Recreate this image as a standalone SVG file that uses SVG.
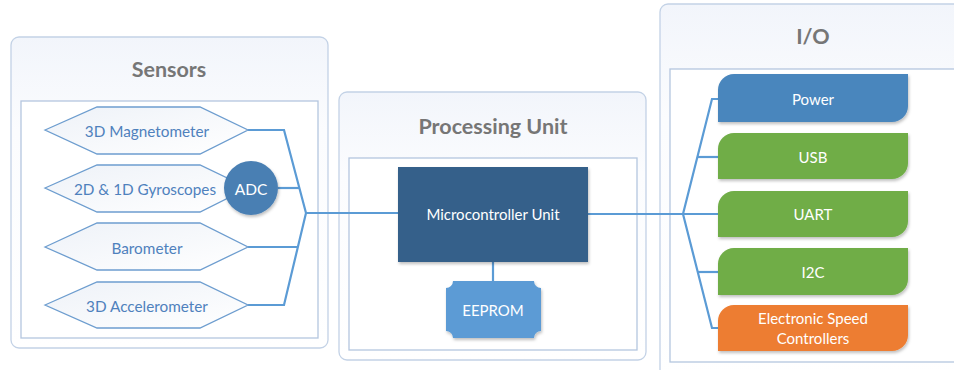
<svg xmlns="http://www.w3.org/2000/svg" width="954" height="370" viewBox="0 0 954 370">
<style>
.panel{stroke:#c3d2e6;stroke-width:1.3;fill:url(#pg)}
.inner{fill:#fff;stroke:#b4c6df;stroke-width:1.3}
.title{font-family:Lato,"Open Sans",sans-serif;font-weight:bold;font-size:21.5px;fill:#767676;text-anchor:middle}
.hex{fill:url(#hg);stroke:#6d9dcf;stroke-width:1.3}
.ht{font-family:Lato,"Open Sans",sans-serif;font-size:15.3px;fill:#4f81bd;text-anchor:middle;dominant-baseline:central}
.wt{font-family:Lato,"Open Sans",sans-serif;font-size:15px;fill:#fff;text-anchor:middle;dominant-baseline:central}
.conn{fill:none;stroke:#5b9bd5;stroke-width:2.2;stroke-linejoin:miter}
</style>
<defs>
<linearGradient id="pg" x1="0" y1="0" x2="0" y2="1">
<stop offset="0" stop-color="#f2f5fb"/><stop offset="0.3" stop-color="#fbfcfe"/><stop offset="1" stop-color="#ffffff"/>
</linearGradient>
<linearGradient id="hg" x1="0" y1="0" x2="1" y2="1">
<stop offset="0" stop-color="#eef2f8"/><stop offset="1" stop-color="#ffffff"/>
</linearGradient>
<filter id="sh" x="-10%" y="-10%" width="130%" height="140%">
<feDropShadow dx="1" dy="2" stdDeviation="1.5" flood-color="#000" flood-opacity="0.25"/>
</filter>
</defs>

<g id="sensors-panel">
<rect class="panel" x="11" y="37" width="317" height="311" rx="8"/>
<text class="title" x="169" y="77">Sensors</text>
<rect class="inner" x="21" y="101" width="297" height="237"/>
</g>
<g id="processing-panel">
<rect class="panel" x="339" y="92" width="307" height="268" rx="8"/>
<text class="title" x="493" y="134">Processing Unit</text>
<rect class="inner" x="349" y="158" width="288" height="192"/>
</g>
<g id="io-panel">
<rect class="panel" x="660" y="4" width="310" height="380" rx="8"/>
<text class="title" x="813" y="44">I/O</text>
<rect class="inner" x="670" y="69" width="300" height="293"/>
</g>

<g id="connectors">
<polyline class="conn" points="248,130 284,130 306,213 284,305 248,305"/>
<line class="conn" x1="278" y1="188" x2="299" y2="188"/>
<line class="conn" x1="248" y1="247" x2="298" y2="247"/>
<line class="conn" x1="306" y1="213" x2="398" y2="213"/>
<line class="conn" x1="588" y1="214" x2="683" y2="214"/>
<line class="conn" x1="493" y1="262" x2="493" y2="281"/>
<polyline class="conn" points="718,99 712,99 683,214 712,328 718,328"/>
<line class="conn" x1="683" y1="214" x2="718" y2="214"/>
<line class="conn" x1="697" y1="157" x2="718" y2="157"/>
<line class="conn" x1="697" y1="272" x2="718" y2="272"/>
</g>

<g id="magnetometer">
<polygon class="hex" points="45,130 97,107 200,107 248,130 200,154 97,154"/>
<text class="ht" x="147" y="131">3D Magnetometer</text>
</g>
<g id="gyroscopes">
<polygon class="hex" points="45,188 97,165 200,165 248,188 200,212 97,212"/>
<text class="ht" x="145" y="189">2D &amp; 1D Gyroscopes</text>
</g>
<g id="adc">
<circle cx="251" cy="188" r="27" fill="#4a7fb3" filter="url(#sh)"/>
<text class="wt" x="251" y="189" style="font-size:15.5px">ADC</text>
</g>
<g id="barometer">
<polygon class="hex" points="45,247 97,223 200,223 248,247 200,270 97,270"/>
<text class="ht" x="147" y="248">Barometer</text>
</g>
<g id="accelerometer">
<polygon class="hex" points="45,305 97,282 200,282 248,305 200,328 97,328"/>
<text class="ht" x="147" y="306">3D Accelerometer</text>
</g>

<g id="mcu">
<rect x="398" y="167" width="190" height="95" fill="#36618a" filter="url(#sh)"/>
<text class="wt" x="493" y="214">Microcontroller Unit</text>
</g>
<g id="eeprom">
<path d="M453,281 H534 A7,7 0 0 0 541,288 V331 A7,7 0 0 0 534,338 H453 A7,7 0 0 0 446,331 V288 A7,7 0 0 0 453,281 Z" fill="#5b9bd5" filter="url(#sh)"/>
<text class="wt" x="493" y="310">EEPROM</text>
</g>

<g id="power">
<path d="M718,122 V90 A16,16 0 0 1 734,74 H908 V106 A16,16 0 0 1 892,122 Z" fill="#4a86bd" filter="url(#sh)"/>
<text class="wt" x="813" y="99">Power</text>
</g>
<g id="usb">
<path d="M718,179 V149 A16,16 0 0 1 734,133 H908 V163 A16,16 0 0 1 892,179 Z" fill="#70ad47" filter="url(#sh)"/>
<text class="wt" x="813" y="157">USB</text>
</g>
<g id="uart">
<path d="M718,237 V207 A16,16 0 0 1 734,191 H908 V221 A16,16 0 0 1 892,237 Z" fill="#70ad47" filter="url(#sh)"/>
<text class="wt" x="813" y="214">UART</text>
</g>
<g id="i2c">
<path d="M718,295 V264 A16,16 0 0 1 734,248 H908 V279 A16,16 0 0 1 892,295 Z" fill="#70ad47" filter="url(#sh)"/>
<text class="wt" x="813" y="272">I2C</text>
</g>
<g id="esc">
<path d="M718,351 V321 A16,16 0 0 1 734,305 H908 V335 A16,16 0 0 1 892,351 Z" fill="#ed7d31" filter="url(#sh)"/>
<text class="wt" x="813" y="318">Electronic Speed</text>
<text class="wt" x="813" y="338">Controllers</text>
</g>
</svg>
